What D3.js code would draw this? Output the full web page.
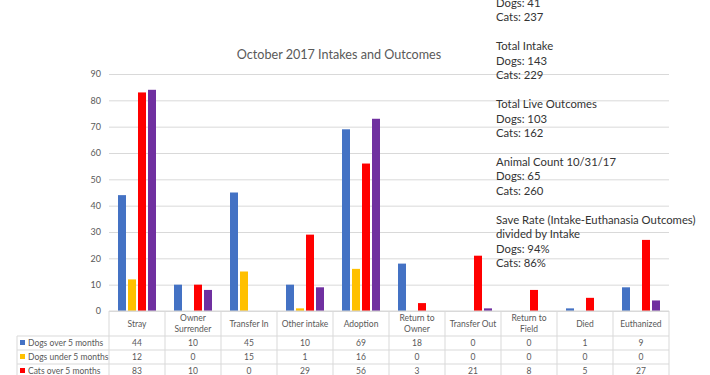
<!DOCTYPE html>
<html>
<head>
<meta charset="utf-8">
<script src="https://cdn.jsdelivr.net/npm/d3@7"></script>
<style>
  body { margin: 0; background: #fff; }
  svg { display: block; font-family: Lato, "Open Sans", sans-serif; }
</style>
</head>
<body>
<svg id="chart" width="710" height="375"></svg>
<script>
const categories = ["Stray", "Owner Surrender", "Transfer In", "Other intake", "Adoption",
    "Return to Owner", "Transfer Out", "Return to Field", "Died", "Euthanized"];
// category labels as they wrap in the table header
const categoryLines = [["Stray"], ["Owner", "Surrender"], ["Transfer In"], ["Other intake"], ["Adoption"],
    ["Return to", "Owner"], ["Transfer Out"], ["Return to", "Field"], ["Died"], ["Euthanized"]];

const seriesNames = ["Dogs over 5 months", "Dogs under 5 months", "Cats over 5 months", "Cats under 5 months"];
const dogsOver = [44, 10, 45, 10, 69, 18, 0, 0, 1, 9];
const dogsUnder = [12, 0, 15, 1, 16, 0, 0, 0, 0, 0];
const catsOver = [83, 10, 0, 29, 56, 3, 21, 8, 5, 27];
const catsUnder = [84, 8, 0, 9, 73, 0, 1, 0, 0, 4];
const seriesColors = ["#4472C4", "#FFC000", "#FF0000", "#7030A0"];
const yTicks = [0, 10, 20, 30, 40, 50, 60, 70, 80, 90];

const notes = ["Dogs: 41", "Cats: 237", "", "Total Intake", "Dogs: 143", "Cats: 229", "",
    "Total Live Outcomes", "Dogs: 103", "Cats: 162", "", "Animal Count 10/31/17", "Dogs: 65", "Cats: 260", "",
    "Save Rate (Intake-Euthanasia Outcomes)", "divided by Intake", "Dogs: 94%", "Cats: 86%"];

const series = [dogsOver, dogsUnder, catsOver, catsUnder];

const svg = d3.select("#chart");
const plotLeft = 109, plotRight = 669, plotTop = 74, plotBottom = 311;
const gridColor = "#D9D9D9";
const textColor = "#595959";

const x = d3.scaleBand().domain(categories).range([plotLeft, plotRight]);
const xInner = d3.scaleBand().domain(d3.range(series.length))
    .range([0, x.bandwidth()]).paddingInner(0.2).paddingOuter(0.9);
const y = d3.scaleLinear().domain([0, 90]).range([plotBottom, plotTop]);

// title
svg.append("text")
    .attr("x", 339).attr("y", 59)
    .attr("text-anchor", "middle")
    .attr("fill", textColor)
    .style("font-size", "12.6px")
    .text("October 2017 Intakes and Outcomes");

// gridlines + y axis labels
const axisY = d3.axisLeft(y).tickValues(yTicks).tickSize(-(plotRight - plotLeft)).tickPadding(8);
const gy = svg.append("g")
    .attr("transform", `translate(${plotLeft},0)`)
    .call(axisY);
gy.select(".domain").remove();
gy.selectAll(".tick line").attr("stroke", gridColor);
gy.selectAll(".tick text").attr("fill", textColor).style("font-size", "9px").style("font-family", "Lato, sans-serif");

// bars
series.forEach((vals, si) => {
    svg.append("g")
        .selectAll("rect")
        .data(vals)
        .join("rect")
        .attr("x", (d, i) => x(categories[i]) + xInner(si))
        .attr("width", xInner.bandwidth())
        .attr("y", d => y(d))
        .attr("height", d => y(0) - y(d))
        .attr("fill", seriesColors[si]);
});

// data table
const rowH = 14, headH = 25, legendLeft = 17;
const table = svg.append("g");
const rowsTop = plotBottom + headH;
const tableBottom = rowsTop + series.length * rowH;

// horizontal lines
table.append("line").attr("x1", plotLeft).attr("x2", plotRight).attr("y1", plotBottom).attr("y2", plotBottom);
for (let r = 0; r <= series.length; r++) {
    table.append("line")
        .attr("x1", legendLeft).attr("x2", plotRight)
        .attr("y1", rowsTop + r * rowH).attr("y2", rowsTop + r * rowH);
}
// vertical lines
categories.forEach(c => {
    table.append("line").attr("x1", x(c)).attr("x2", x(c)).attr("y1", plotBottom).attr("y2", tableBottom);
});
table.append("line").attr("x1", plotRight).attr("x2", plotRight).attr("y1", plotBottom).attr("y2", tableBottom);
table.append("line").attr("x1", legendLeft).attr("x2", legendLeft).attr("y1", rowsTop).attr("y2", tableBottom);
table.selectAll("line").attr("stroke", gridColor).attr("stroke-width", 1);

// header labels
categoryLines.forEach((lines, i) => {
    const cx = x(categories[i]) + x.bandwidth() / 2;
    const cy = plotBottom + headH / 2;
    lines.forEach((ln, k) => {
        table.append("text")
            .attr("x", cx)
            .attr("y", cy + (k - (lines.length - 1) / 2) * 11 + 3)
            .attr("text-anchor", "middle")
            .attr("fill", textColor)
            .style("font-size", "8.5px")
            .text(ln);
    });
});

// rows
series.forEach((vals, si) => {
    const ry = rowsTop + si * rowH + rowH / 2;
    table.append("rect")
        .attr("x", 20).attr("y", ry - 3)
        .attr("width", 5).attr("height", 5)
        .attr("fill", seriesColors[si]);
    table.append("text")
        .attr("x", 28).attr("y", ry + 3)
        .attr("fill", textColor)
        .style("font-size", "8.5px")
        .text(seriesNames[si]);
    vals.forEach((v, i) => {
        table.append("text")
            .attr("x", x(categories[i]) + x.bandwidth() / 2)
            .attr("y", ry + 3)
            .attr("text-anchor", "middle")
            .attr("fill", textColor)
            .style("font-size", "8.5px")
            .text(v);
    });
});

// side notes
svg.append("g")
    .selectAll("text")
    .data(notes)
    .join("text")
    .attr("x", 496)
    .attr("y", (d, i) => 7 + i * 14.45)
    .attr("fill", "#333")
    .style("font-size", "11.3px")
    .text(d => d);
</script>
</body>
</html>
